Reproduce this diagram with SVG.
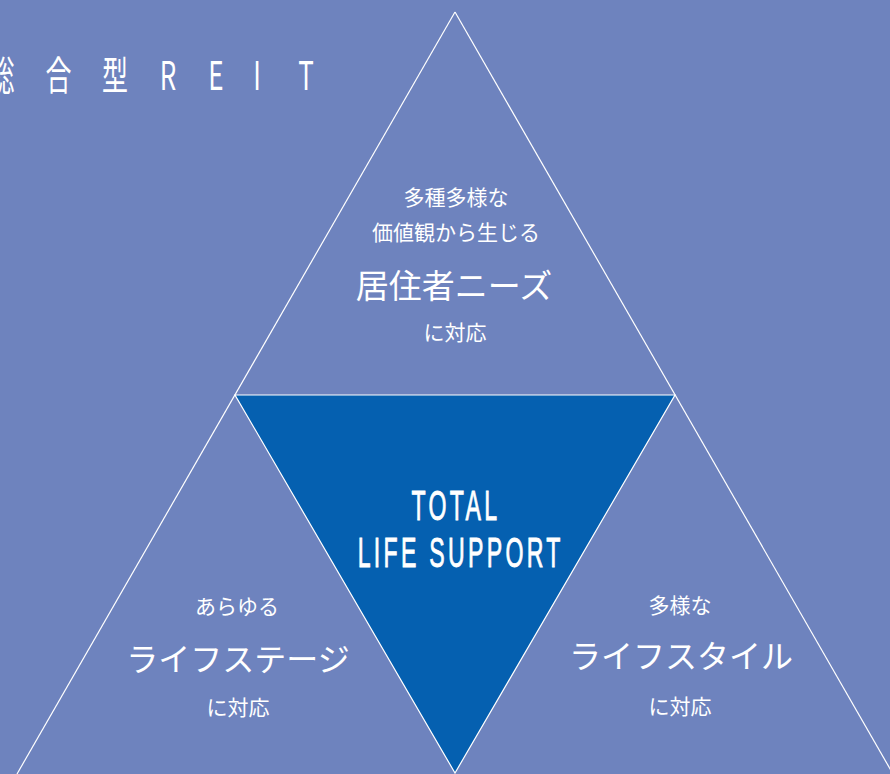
<svg xmlns="http://www.w3.org/2000/svg" width="890" height="774" viewBox="0 0 890 774">
<style>
.jp{font-family:"Noto Sans CJK JP","Noto Sans",sans-serif;fill:#fff;text-anchor:middle}
.s{font-size:21px}
.l{font-size:32px}
.line{stroke:#fff;stroke-width:1.2;fill:none}
.en{font-family:"Liberation Sans",Arial,sans-serif;fill:#fff;stroke:#fff;stroke-width:0.9;text-anchor:middle;font-size:42px;letter-spacing:6px}
</style>
<rect width="890" height="774" fill="#6e83be"/>
<g id="connectors">
<line class="line" x1="455" y1="12" x2="17" y2="774"/>
<line class="line" x1="455" y1="12" x2="893" y2="774"/>
</g>
<g id="center">
<polygon points="235,395 675,395 455,773" fill="#0560b0" stroke="#fff" stroke-width="1.2"/>
<g transform="scale(0.55,1)">
<text class="en" x="829" y="520">TOTAL</text>
<text class="en" x="837.5" y="567">LIFE SUPPORT</text>
</g>
</g>
<g id="title" transform="scale(0.65,1)">
<text class="jp" style="font-size:40px" x="2.3 90 176.9 258.5 332.3 395.4 470.8" y="90">総合型REIT</text>
</g>
<g id="top">
<text class="jp s" x="456" y="205">多種多様な</text>
<text class="jp s" x="456" y="240">価値観から生じる</text>
<text class="jp" style="font-size:33px" x="454" y="298">居住者ニーズ</text>
<text class="jp s" x="455" y="340">に対応</text>
</g>
<g id="left">
<text class="jp s" x="237" y="614">あらゆる</text>
<text class="jp l" x="238" y="671">ライフステージ</text>
<text class="jp s" x="238" y="715">に対応</text>
</g>
<g id="right">
<text class="jp s" x="680" y="613">多様な</text>
<text class="jp l" x="681" y="668">ライフスタイル</text>
<text class="jp s" x="680" y="714">に対応</text>
</g>
</svg>
